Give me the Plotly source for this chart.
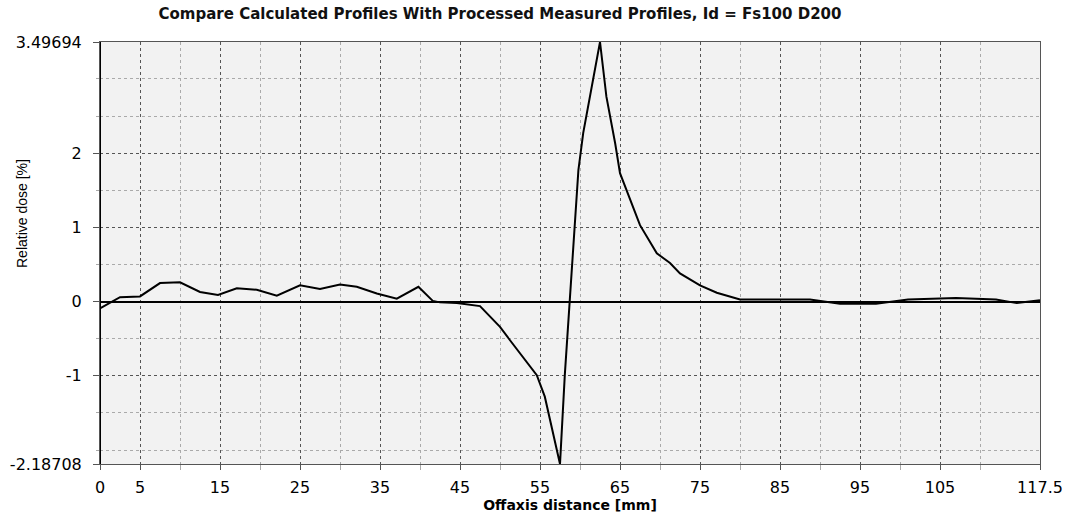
import plotly.graph_objects as go

# Data
offaxis_mm = [0, 1.25, 2.5, 5, 7.5, 10, 12.5, 14.75, 17.1, 19.6, 22.1, 25, 27.5, 30, 32.1,
              34.6, 37.1, 39.8, 41.6, 42.5, 44.6, 47.5, 50, 51.25, 52.5, 54.6, 55.6,
              57.5, 58.1, 58.75, 59.2, 59.8, 60.4, 62.5, 63.3, 64.4, 65, 66.25, 67.5,
              69.6, 71.25, 72.5, 75, 77.1, 79.2, 80, 84.6, 88.75, 92.5, 97, 101, 107,
              112, 114.6, 117.5]
relative_dose = [-0.09, -0.02, 0.06, 0.07, 0.25, 0.26, 0.13, 0.09, 0.18, 0.16, 0.08, 0.22,
                 0.17, 0.23, 0.20, 0.11, 0.04, 0.20, 0.01, -0.01, -0.02, -0.06, -0.34,
                 -0.52, -0.69, -0.99, -1.28, -2.18708, -0.99, 0.02, 0.74, 1.77, 2.27,
                 3.49694, 2.76, 2.13, 1.73, 1.37, 1.03, 0.65, 0.52, 0.38, 0.22, 0.12,
                 0.05, 0.03, 0.03, 0.03, -0.03, -0.03, 0.03, 0.05, 0.03, -0.02, 0.02]

x_tick_vals = [0, 5, 15, 25, 35, 45, 55, 65, 75, 85, 95, 105, 117.5]
x_tick_text = ["0", "5", "15", "25", "35", "45", "55", "65", "75", "85", "95", "105", "117.5"]
x_minor_vals = [10, 20, 30, 40, 50, 60, 70, 80, 90, 100, 110]
y_tick_vals = [-2.18708, -1, 0, 1, 2, 3.49694]
y_tick_text = ["-2.18708", "-1", "0", "1", "2", "3.49694"]
y_minor_vals = [-2, -1.5, -0.5, 0.5, 1.5, 2.5, 3]

font_family = "Liberation Sans, Arial, sans-serif"
wide_font = "DejaVu Sans, Verdana, sans-serif"

fig = go.Figure()
fig.add_trace(go.Scatter(
    x=offaxis_mm, y=relative_dose, mode="lines",
    line=dict(color="black", width=2), showlegend=False, hoverinfo="skip"))

fig.update_layout(
    width=1067, height=517,
    margin=dict(l=100, r=27, t=42, b=53),
    paper_bgcolor="white",
    plot_bgcolor="#f2f2f2",
    font=dict(family=font_family, size=13, color="black"),
    title=dict(text="<b>Compare Calculated Profiles With Processed Measured Profiles, Id = Fs100 D200</b>",
               x=500 / 1067, xanchor="center", xref="container",
               y=1 - 14 / 517, yanchor="middle", yref="container",
               font=dict(size=15, family=wide_font, color="#111")),
    showlegend=False,
)

fig.update_xaxes(
    range=[0, 117.5], tickmode="array", tickvals=x_tick_vals, ticktext=x_tick_text,
    ticks="outside", ticklen=5, tickcolor="#555", ticklabelstandoff=4,
    showgrid=True, gridcolor="#555", griddash="dot", gridwidth=1,
    minor=dict(tickvals=x_minor_vals, showgrid=True, gridcolor="#aaa", griddash="dot",
               ticks="outside", ticklen=5, tickcolor="#aaa"),
    zeroline=False, showline=True, linecolor="#555", linewidth=1, mirror=True,
    tickfont=dict(size=16, family=wide_font),
    automargin=False,
    title=dict(text="<b>Offaxis distance [mm]</b>", font=dict(size=14, family=wide_font), standoff=0),
)
fig.update_yaxes(
    range=[-2.18708, 3.49694], tickmode="array", tickvals=y_tick_vals, ticktext=y_tick_text,
    ticks="outside", ticklen=6, tickcolor="#555", ticklabelstandoff=8,
    showgrid=True, gridcolor="#555", griddash="dot", gridwidth=1,
    minor=dict(tickvals=y_minor_vals, showgrid=True, gridcolor="#aaa", griddash="dot",
               ticks="outside", ticklen=3, tickcolor="#aaa"),
    zeroline=True, zerolinecolor="black", zerolinewidth=2,
    showline=True, linecolor="#555", linewidth=1, mirror=True,
    tickfont=dict(size=16, family=wide_font),
    automargin=False,
)

# thick black left axis line
fig.add_shape(type="line", xref="x", yref="paper", x0=0, x1=0, y0=0, y1=1,
              line=dict(color="black", width=2))

fig.add_annotation(text="Relative dose [%]", xref="paper", yref="paper",
                   x=-78 / 940, y=(464 - 214) / 422, textangle=-90,
                   showarrow=False, font=dict(size=14, family=font_family),
                   xanchor="center", yanchor="middle")

fig.write_html("out.html")
